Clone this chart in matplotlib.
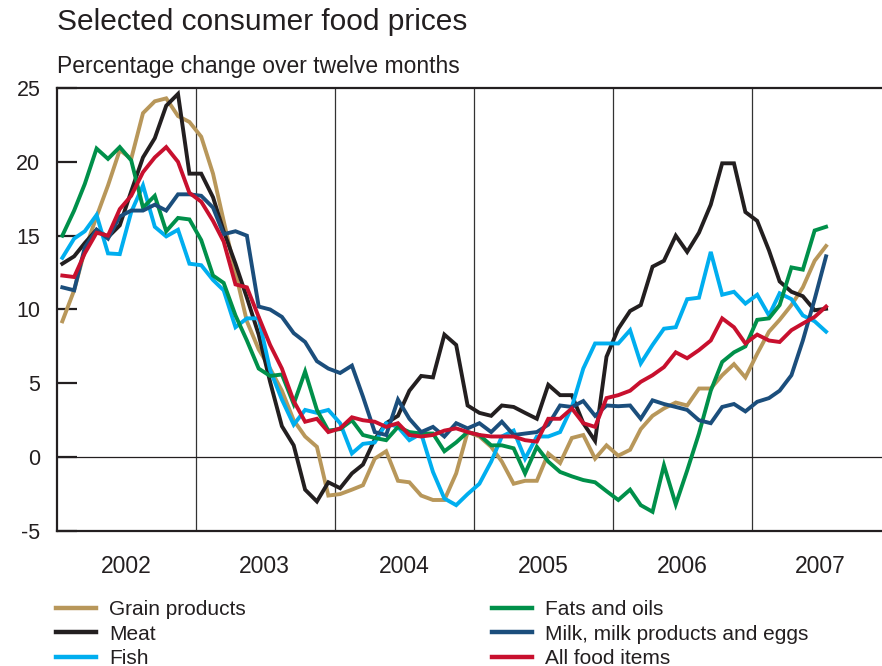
import numpy as np
import pandas as pd
import matplotlib
matplotlib.use("Agg")
import matplotlib.pyplot as plt
from matplotlib.lines import Line2D

# monthly data, Jan 2002 - Jul 2007 (percentage change over twelve months)
months = pd.date_range("2002-01-01", periods=67, freq="MS") + pd.Timedelta(days=14)

grain = [9.2, 11.3, 14.0, 16.3, 18.4, 20.8, 20.2, 23.3, 24.1, 24.3, 23.1, 22.7,
         21.7, 19.2, 16.0, 12.5, 9.2, 7.3, 6.0, 4.5, 2.5, 1.4, 0.7, -2.6,
         -2.5, -2.2, -1.9, -0.1, 0.4, -1.6, -1.7, -2.6, -2.9, -2.9, -1.1, 1.7,
         1.4, 0.7, -0.3, -1.8, -1.6, -1.6, 0.25, -0.4, 1.3, 1.5, -0.1, 0.8,
         0.1, 0.5, 1.9, 2.8, 3.3, 3.7, 3.5, 4.65, 4.65, 5.55, 6.3, 5.4,
         7.0, 8.5, 9.3, 10.3, 11.5, 13.3, 14.3]
meat = [13.1, 13.6, 14.5, 15.4, 14.9, 15.7, 18.0, 20.3, 21.6, 23.8, 24.6, 19.2,
        19.2, 17.6, 15.3, 13.1, 10.8, 8.3, 5.1, 2.1, 0.8, -2.2, -3.0, -1.7,
        -2.1, -1.1, -0.5, 1.2, 2.3, 2.8, 4.5, 5.5, 5.4, 8.3, 7.6, 3.5,
        3.0, 2.8, 3.5, 3.4, 3.0, 2.6, 4.9, 4.2, 4.2, 2.3, 1.1, 6.8,
        8.7, 9.9, 10.3, 12.9, 13.3, 15.0, 13.9, 15.2, 17.1, 19.9, 19.9, 16.6,
        16.0, 14.0, 11.9, 11.2, 10.9, 9.95, 10.05]
fish = [13.5, 14.8, 15.3, 16.4, 13.8, 13.75, 16.6, 18.4, 15.6, 14.95, 15.4, 13.1,
        13.0, 12.0, 11.3, 8.8, 9.4, 9.4, 5.9, 3.9, 2.2, 3.2, 3.0, 3.2,
        2.3, 0.25, 0.9, 1.0, 2.3, 2.05, 1.15, 1.6, -1.0, -2.8, -3.25, -2.5,
        -1.8, -0.3, 1.4, 1.8, -0.1, 1.4, 1.4, 1.7, 3.4, 6.0, 7.7, 7.7,
        7.7, 8.6, 6.35, 7.6, 8.7, 8.8, 10.7, 10.8, 13.9, 11.0, 11.2, 10.4,
        11.0, 9.6, 11.1, 10.7, 9.6, 9.2, 8.5]
fats = [15.0, 16.7, 18.5, 20.9, 20.2, 21.0, 20.1, 16.9, 17.7, 15.3, 16.2, 16.1,
        14.7, 12.3, 11.8, 9.6, 7.9, 6.0, 5.5, 5.6, 3.6, 5.8, 3.2, 1.8,
        1.9, 2.5, 1.5, 1.3, 1.15, 2.05, 1.7, 1.6, 1.6, 0.4, 1.0, 1.7,
        1.5, 0.8, 0.8, 0.6, -1.1, 0.7, -0.3, -1.0, -1.3, -1.55, -1.7, -2.3,
        -2.9, -2.2, -3.25, -3.7, -0.55, -3.2, -0.9, 1.6, 4.5, 6.45, 7.1, 7.5,
        9.3, 9.4, 10.3, 12.85, 12.7, 15.35, 15.6]
milk = [11.5, 11.3, 14.2, 15.4, 14.8, 16.3, 16.7, 16.7, 17.1, 16.7, 17.8, 17.8,
        17.7, 16.9, 15.1, 15.3, 15.0, 10.2, 10.0, 9.5, 8.4, 7.8, 6.5, 6.0,
        5.7, 6.2, 4.1, 1.7, 1.5, 3.9, 2.6, 1.7, 2.05, 1.4, 2.3, 1.95,
        2.3, 1.7, 2.4, 1.5, 1.6, 1.7, 2.2, 3.5, 3.4, 3.8, 2.8, 3.5,
        3.45, 3.5, 2.6, 3.85, 3.6, 3.4, 3.2, 2.5, 2.3, 3.4, 3.6, 3.1,
        3.75, 4.0, 4.5, 5.55, 7.9, 10.7, 13.6]
all_food = [12.3, 12.2, 13.8, 15.2, 15.0, 16.8, 17.7, 19.3, 20.3, 21.0, 20.0, 17.9,
            17.3, 16.0, 14.6, 11.7, 11.5, 9.5, 7.6, 6.0, 3.8, 2.4, 2.6, 1.7,
            1.95, 2.7, 2.5, 2.4, 2.05, 2.3, 1.5, 1.4, 1.5, 1.8, 1.95, 1.7,
            1.5, 1.4, 1.4, 1.4, 1.15, 1.05, 2.6, 2.6, 3.3, 2.3, 2.05, 4.0,
            4.2, 4.5, 5.1, 5.55, 6.1, 7.1, 6.7, 7.25, 7.9, 9.4, 8.8, 7.7,
            8.3, 7.9, 7.8, 8.6, 9.05, 9.5, 10.2]

labels = ["Grain products", "Meat", "Fish",
          "Fats and oils", "Milk, milk products and eggs", "All food items"]
colors = ["#B8975A", "#231F20", "#00AEEF", "#00904A", "#1B4E7C", "#C8102E"]
series = [grain, meat, fish, fats, milk, all_food]
years = [2002, 2003, 2004, 2005, 2006, 2007]

plt.rcParams["font.family"] = ["Liberation Sans", "DejaVu Sans"]
plt.rcParams["axes.unicode_minus"] = False
txt = "#231F20"

fig = plt.figure(figsize=(8.82, 6.66), dpi=100)
ax = fig.add_axes([57 / 882, 135 / 666, 825 / 882, 443 / 666])

for y in years[1:]:
    ax.axvline(pd.Timestamp(f"{y}-01-01"), color="#333333", lw=0.9, zorder=1)
ax.axhline(0, color="#231F20", lw=0.9, zorder=1)

for vals, c in zip(series, colors):
    ax.plot(months, vals, color=c, lw=2.8, solid_joinstyle="miter", zorder=3)

ax.set_xlim(pd.Timestamp("2002-01-01"), pd.Timestamp("2007-12-09"))
ax.set_ylim(-5, 25)
ax.set_yticks(range(-5, 26, 5))
ax.tick_params(axis="y", direction="in", length=14.5, width=1.6, color=txt,
               labelsize=15.5, labelcolor=txt, pad=12)

ax.set_xticks([pd.Timestamp(f"{y}-07-01") for y in years])
ax.set_xticklabels([str(y) for y in years])
ax.tick_params(axis="x", length=0, labelsize=16.5, labelcolor=txt, pad=17)

ax.spines["right"].set_visible(False)
for s in ["left", "top", "bottom"]:
    ax.spines[s].set_linewidth(1.6)
    ax.spines[s].set_color(txt)

fig.text(57 / 882, 1 - 22 / 666, "Selected consumer food prices", fontsize=21.5,
         color=txt, va="center", ha="left")
fig.text(57 / 882, 1 - 66 / 666, "Percentage change over twelve months", fontsize=16.5,
         color=txt, va="center", ha="left")

handles = [Line2D([], [], color=c, lw=3.2) for c in colors]
leg_kw = dict(frameon=False, fontsize=15, handlelength=1.9, handletextpad=0.65,
              labelspacing=0.27, borderpad=0, loc="upper left", borderaxespad=0)
for k, x0 in [(0, 56), (3, 492)]:
    leg = fig.legend(handles[k:k + 3], labels[k:k + 3],
                     bbox_to_anchor=(x0 / 882, 1 - 600 / 666), **leg_kw)
    for t in leg.get_texts():
        t.set_color(txt)

fig.savefig("out.png", dpi=100)
